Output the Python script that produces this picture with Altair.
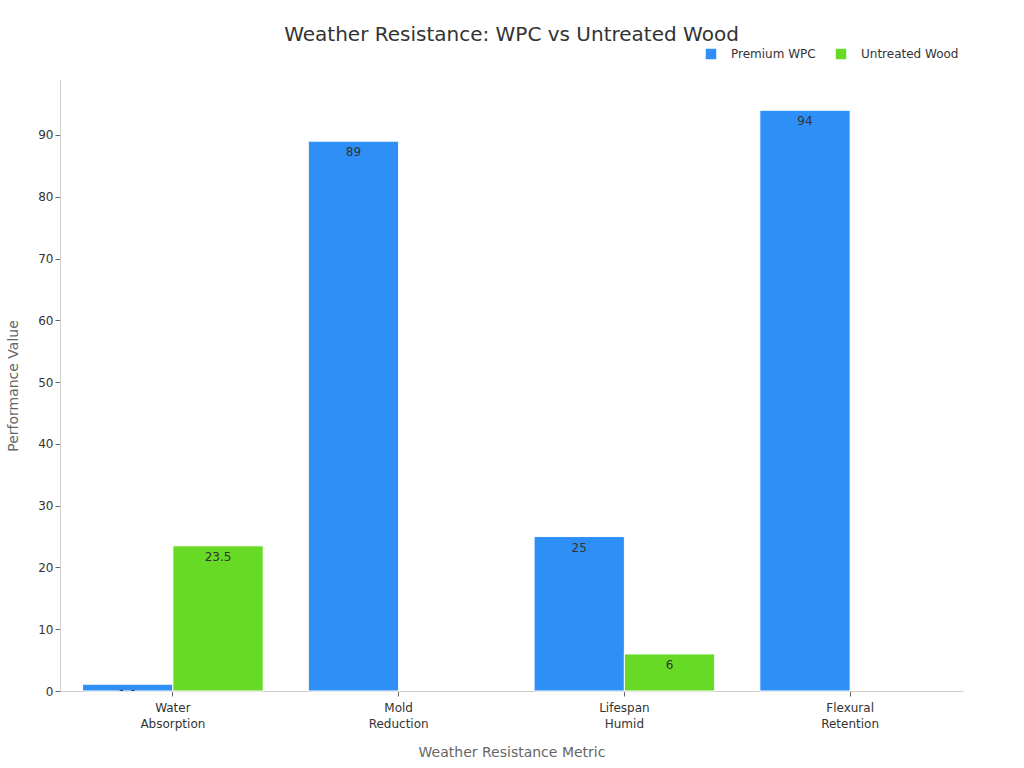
import altair as alt
import pandas as pd

metrics = ["Water Absorption", "Water Absorption", "Mold Reduction", "Lifespan Humid", "Lifespan Humid", "Flexural Retention"]
materials = ["Premium WPC", "Untreated Wood", "Premium WPC", "Premium WPC", "Untreated Wood", "Premium WPC"]
values = [1.1, 23.5, 89, 25, 6, 94]
labels = ["1.1", "23.5", "89", "25", "6", "94"]

category_order = ["Water Absorption", "Mold Reduction", "Lifespan Humid", "Flexural Retention"]
series_order = ["Premium WPC", "Untreated Wood"]
series_colors = ["#2E8FF7", "#67DA26"]

df = pd.DataFrame({"metric": metrics, "material": materials, "value": values, "label": labels})

font = "DejaVu Sans"

x = alt.X("metric:N", sort=category_order, title="Weather Resistance Metric",
          scale=alt.Scale(paddingInner=0.2, paddingOuter=0.1),
          axis=alt.Axis(labelAngle=0, labelExpr="split(datum.label, ' ')",
                        labelFontSize=12, labelColor="#333333", labelFont=font, labelLineHeight=16,
                        titleFontSize=14, titleColor="#666666", titleFont=font, titleFontWeight="normal",
                        titlePadding=16, domainColor="#CCCCCC", tickColor="#666666", tickSize=5,
                        labelPadding=6))
y = alt.Y("value:Q", title="Performance Value",
          scale=alt.Scale(domain=[0, 98.9], nice=False),
          axis=alt.Axis(values=[0, 10, 20, 30, 40, 50, 60, 70, 80, 90], grid=False,
                        labelFontSize=12, labelColor="#333333", labelFont=font,
                        titleFontSize=14, titleColor="#666666", titleFont=font, titleFontWeight="normal",
                        titlePadding=17, domainColor="#CCCCCC", tickColor="#666666", tickSize=5))
xo = alt.XOffset("material:N", sort=series_order)

bars = alt.Chart(df).mark_bar(stroke="white", strokeWidth=1).encode(
    x=x, y=y, xOffset=xo,
    color=alt.Color("material:N", sort=series_order,
                    scale=alt.Scale(domain=series_order, range=series_colors),
                    legend=alt.Legend(title=None, orient="none", direction="horizontal",
                                      legendX=645, legendY=-32, symbolType="square",
                                      symbolSize=110, labelFontSize=12, labelFont=font,
                                      labelColor="#333333", columnPadding=19, labelOffset=14,
                                      symbolOpacity=1, symbolStrokeWidth=0)),
)

text = alt.Chart(df).mark_text(baseline="top", dy=6, fontSize=12, color="#333333", font=font, clip=True).encode(
    x=alt.X("metric:N", sort=category_order), y="value:Q", xOffset=xo, text="label:N"
)

chart = (bars + text).properties(
    width=903, height=611,
    background="white",
    autosize=alt.AutoSizeParams(type="none"),
    padding={"left": 60, "top": 80, "right": 61, "bottom": 77},
    title=alt.TitleParams("Weather Resistance: WPC vs Untreated Wood", fontSize=20,
                          font=font, color="#333333", fontWeight="normal", anchor="middle", offset=3),
).configure_view(stroke=None, strokeWidth=0)

chart.save("out.html", embed_options={"renderer": "svg", "actions": False})
